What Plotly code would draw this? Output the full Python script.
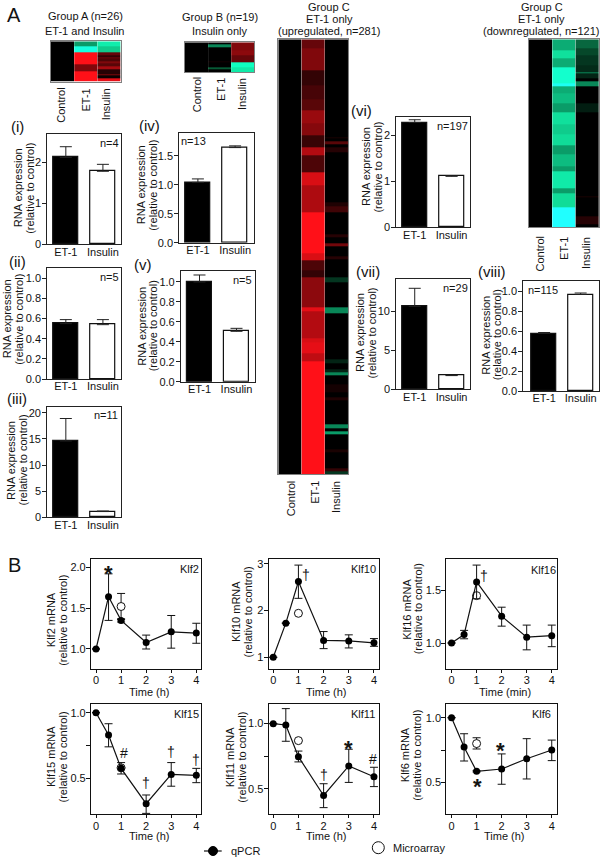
import plotly.graph_objects as go

W, H = 600, 859
FONT = "Liberation Sans"
INK = "#222222"

# ---- heatmap data: row edges (gene index) and value per band, -1 cyan .. 0 black .. 1 red
groupa_et1_edges = [0, 3, 7, 15, 19, 26]
groupa_et1_vals = [-0.5, -0.95, 1, 0.5, 1]
groupa_ins_edges = [0, 3, 7, 9, 10, 11, 13, 14, 16, 18, 21, 22, 24, 26]
groupa_ins_vals = [-0.8, -0.65, 0.4, 0.2, 0.45, 0.3, 0.5, 0.35, 0.65, 0.15, 0.5, 0.05, 0.9]

groupb_et1_edges = [0, 1, 3, 12, 13, 16, 17, 19]
groupb_et1_vals = [0, -0.42, 0, 0.08, 0, -0.25, 0]
groupb_ins_edges = [0, 5, 8, 13, 16, 19]
groupb_ins_vals = [0.5, 0.55, 0.4, -0.9, -0.78]

cup_et1_edges = [0, 6, 20, 30, 39, 46, 54, 62, 70, 75, 86, 94, 112, 138, 143, 149, 154, 173, 176, 193, 196, 203, 208, 281]
cup_et1_vals = [0.4, 0.5, 0.2, 0.28, 0.35, 0.6, 0.52, 0.22, 0.7, 0.3, 0.85, 0.68, 1, 0.85, 0.3, 0.2, 0.55, 0.9, 0.7, 0.85, 0.9, 0.75, 1]
cup_ins_edges = [0, 63, 64, 66, 68, 70, 73, 105, 108, 112, 126, 128, 132, 134, 140, 142, 154, 157, 173, 177, 207, 209,
                 213, 215, 217, 223, 228, 231, 233, 249, 251, 253, 255, 265, 267, 277, 279, 281]
cup_ins_vals = [0, 0.1, 0, 0.35, 0, 0.15, 0, 0.12, 0.25, 0, 0.15, 0, 0.45, 0, 0.15, 0, -0.15, 0, -0.42, 0, -0.1, 0,
                -0.1, -0.42, 0, 0.08, 0, 0.12, 0, -0.42, 0, -0.5, 0, 0.1, 0, 0.2, -0.15]

cdown_et1_edges = [0, 7, 12, 18, 28, 30, 35, 41, 47, 55, 61, 68, 74, 82, 85, 96, 99, 108, 121]
cdown_et1_vals = [-0.55, -0.72, -0.55, -0.92, -0.98, -0.55, -0.6, -0.5, -0.72, -0.65, -0.7, -0.5, -0.6, -0.5, -0.78, -0.5, -0.7, -1]
cdown_ins_edges = [0, 6, 10, 17, 21, 22, 25, 27, 30, 41, 47, 101, 102, 114, 119, 121]
cdown_ins_vals = [-0.3, -0.2, -0.15, -0.12, -0.42, -0.1, 0, -0.42, 0, -0.08, 0, 0.1, 0, 0.15, 0]

# ---- bar data: [ET-1, Insulin] and top of the error bar
bar_cats = ["ET-1", "Insulin"]
bar_i = [2.12, 1.78]
bar_i_top = [2.38, 1.95]
bar_ii = [0.55, 0.54]
bar_ii_top = [0.59, 0.59]
bar_iii = [14.6, 1.1]
bar_iii_top = [18.9, 1.2]
bar_iv = [1.04, 1.64]
bar_iv_top = [1.10, 1.67]
bar_v = [1.0, 0.505]
bar_v_top = [1.07, 0.535]
bar_vi = [2.28, 1.11]
bar_vi_top = [2.34, 1.12]
bar_vii = [10.6, 1.75]
bar_vii_top = [12.9, 1.8]
bar_viii = [0.575, 0.965]
bar_viii_top = [0.585, 0.98]

# ---- time courses
hours = [0, 0.5, 1, 2, 3, 4]
klf2 = [1.0, 1.64, 1.35, 1.08, 1.21, 1.195]
klf2_hi = [1.0, 1.92, 1.37, 1.17, 1.41, 1.315]
klf2_lo = [1.0, 1.35, 1.33, 1.0, 1.01, 1.07]
klf2_array = [1.52, 1.68, 1.36]
klf10 = [1.0, 1.73, 2.62, 1.36, 1.35, 1.31]
klf10_hi = [1.0, 1.73, 2.97, 1.55, 1.48, 1.4]
klf10_lo = [1.0, 1.73, 2.26, 1.185, 1.2, 1.235]
klf10_array = [1.94, 1.94, 1.94]
klf16 = [1.0, 1.08, 1.58, 1.255, 1.055, 1.07]
klf16_hi = [1.0, 1.12, 1.74, 1.34, 1.17, 1.17]
klf16_lo = [1.0, 1.04, 1.42, 1.16, 0.935, 0.965]
klf16_array = [1.45, 1.45, 1.45]
klf15 = [1.0, 0.83, 0.576, 0.307, 0.53, 0.523]
klf15_hi = [1.0, 0.916, 0.62, 0.373, 0.62, 0.576]
klf15_lo = [1.0, 0.74, 0.533, 0.233, 0.44, 0.467]
klf15_array = [0.58, 0.58, 0.58]
klf11 = [1.0, 0.99, 0.747, 0.45, 0.676, 0.594]
klf11_hi = [1.0, 1.115, 0.79, 0.54, 0.804, 0.666]
klf11_lo = [1.0, 0.865, 0.707, 0.357, 0.55, 0.518]
klf11_array = [0.87, 0.87, 0.87]
klf6 = [1.0, 0.773, 0.585, 0.603, 0.683, 0.75]
klf6_hi = [1.0, 0.876, 0.59, 0.72, 0.838, 0.827]
klf6_lo = [1.0, 0.665, 0.58, 0.485, 0.526, 0.668]
klf6_array = [0.80, 0.845, 0.758]

COLORSCALE = [
    [0.0, "#20ffff"],
    [0.05, "#10ffc0"],
    [0.15, "#10dc98"],
    [0.25, "#0a9c68"],
    [0.375, "#075a35"],
    [0.5, "#000000"],
    [1.0, "#ff1018"],
]

fig = go.Figure()
annotations = []
axis_no = 0


def text(x, y, s, size=11, angle=0, xanchor="center", yanchor="middle"):
    annotations.append(dict(
        x=x / W, y=1 - y / H, xref="paper", yref="paper", text=s, showarrow=False,
        textangle=angle, xanchor=xanchor, yanchor=yanchor, borderpad=0, opacity=0.99,
        font=dict(family=FONT, size=size, color="#111111"),
    ))


def new_axes(box, xaxis, yaxis):
    """Put a pair of axes on the pixel box (left, top, right, bottom)"""
    global axis_no
    axis_no += 1
    left, top, right, bottom = box
    name = "" if axis_no == 1 else str(axis_no)
    ref = f"x{name}", f"y{name}"
    fig.update_layout({
        f"xaxis{name}": dict(domain=[left / W, right / W], anchor=ref[1], automargin=False, **xaxis),
        f"yaxis{name}": dict(domain=[1 - bottom / H, 1 - top / H], anchor=ref[0], automargin=False, **yaxis),
    })
    return ref


def heatmap(box, n_rows, et1_edges, et1_vals, ins_edges, ins_vals):
    hidden = dict(showticklabels=False, ticks="", showgrid=False, zeroline=False,
                  showline=True, mirror=True, linecolor="#808080", linewidth=1)
    xref, yref = new_axes(box, dict(range=[-0.5, 2.5], **hidden), dict(range=[n_rows, 0], **hidden))
    columns = [([0, n_rows], [0]), (et1_edges, et1_vals), (ins_edges, ins_vals)]
    for k, (edges, vals) in enumerate(columns):
        fig.add_trace(go.Heatmap(
            x=[k - 0.5, k + 0.5], y=edges, z=[[v] for v in vals], colorscale=COLORSCALE,
            zmin=-1, zmax=1, showscale=False, xaxis=xref, yaxis=yref,
        ))


def bar_panel(box, xrange, yrange, ticks, ticktext, vals, tops):
    xaxis = dict(range=xrange, type="category", categoryarray=bar_cats, ticks="", showline=True, mirror=True,
                 linecolor=INK, linewidth=1.2, showgrid=False, zeroline=False, ticklabelstandoff=-3,
                 tickfont=dict(family=FONT, size=11, color="#111111"))
    yaxis = dict(range=yrange, tickvals=ticks, ticktext=ticktext, ticks="outside", ticklen=4, tickwidth=1,
                 tickcolor=INK, showline=True, mirror=True, linecolor=INK, linewidth=1.2, showgrid=False,
                 zeroline=False, ticklabelstandoff=-1, tickfont=dict(family=FONT, size=11, color="#111111"))
    xref, yref = new_axes(box, xaxis, yaxis)
    fig.add_trace(go.Bar(
        x=bar_cats, y=vals, width=0.68, xaxis=xref, yaxis=yref,
        marker=dict(color=["#000000", "#ffffff"], line=dict(color="#111111", width=1.2)),
        error_y=dict(type="data", symmetric=False, array=[t - v for t, v in zip(tops, vals)],
                     arrayminus=[0, 0], color=INK, thickness=1, width=6),
    ))


def line_panel(box, xrange, yrange, ticks, ticktext, vals, hi, lo, array_pt):
    xaxis = dict(range=xrange, tickvals=[0, 1, 2, 3, 4], ticks="outside", ticklen=3, tickwidth=1,
                 tickcolor="#111111", showline=True, mirror=True, linecolor="#111111", linewidth=1.2,
                 showgrid=False, zeroline=False, ticklabelstandoff=-2,
                 tickfont=dict(family=FONT, size=11, color="#111111"))
    yaxis = dict(range=yrange, tickvals=ticks, ticktext=ticktext, ticks="outside", ticklen=4, tickwidth=1,
                 tickcolor="#111111", showline=True, mirror=True, linecolor="#111111", linewidth=1.2,
                 showgrid=False, zeroline=False, ticklabelstandoff=-2,
                 tickfont=dict(family=FONT, size=11, color="#111111"))
    xref, yref = new_axes(box, xaxis, yaxis)
    fig.add_trace(go.Scatter(
        x=[1], y=[array_pt[0]], mode="markers", xaxis=xref, yaxis=yref,
        marker=dict(size=8, color="#ffffff", line=dict(color="#111111", width=1)),
        error_y=dict(type="data", symmetric=False, array=[array_pt[1] - array_pt[0]],
                     arrayminus=[array_pt[0] - array_pt[2]], color="#111111", thickness=1, width=4),
    ))
    fig.add_trace(go.Scatter(
        x=hours, y=vals, mode="lines+markers", xaxis=xref, yaxis=yref,
        line=dict(color="#111111", width=1.2),
        marker=dict(size=7, color="#000000"),
        error_y=dict(type="data", symmetric=False, array=[h - v for h, v in zip(hi, vals)],
                     arrayminus=[v - l for v, l in zip(vals, lo)], color="#111111", thickness=1, width=4),
    ))


def two_line_title(cx, cy, first, second):
    # two annotations, plotly's own line spacing is wider than the figure's
    text(cx - 5.8, cy, first, angle=-90)
    text(cx + 5.8, cy, second, angle=-90)


# ---- panel A heatmaps
heatmap((51, 41.3, 120.7, 81.7), 26, groupa_et1_edges, groupa_et1_vals, groupa_ins_edges, groupa_ins_vals)
heatmap((185, 42.3, 254.3, 72), 19, groupb_et1_edges, groupb_et1_vals, groupb_ins_edges, groupb_ins_vals)
heatmap((278.3, 39.3, 348.3, 474.3), 281, cup_et1_edges, cup_et1_vals, cup_ins_edges, cup_ins_vals)
heatmap((529, 39.3, 599, 227.3), 121, cdown_et1_edges, cdown_et1_vals, cdown_ins_edges, cdown_ins_vals)

text(85, 16, "Group A (n=26)")
text(85, 30.7, "ET-1 and Insulin")
text(220, 16.7, "Group B (n=19)")
text(220, 31, "Insulin only")
for cx, last in [(329, "(upregulated, n=281)"), (541.7, "(downregulated, n=121)")]:
    text(cx, 7.3, "Group C")
    text(cx, 19, "ET-1 only")
    text(cx, 30.7, last)

col_labels = ["Control", "ET-1", "Insulin"]
for top, xs in [(87.3, (61, 85.7, 106)), (76.7, (197, 220.7, 241.3)),
                (480, (290.7, 314.3, 336)), (235.7, (540.3, 563.7, 585.3))]:
    for cx, label in zip(xs, col_labels):
        text(cx, top, label, angle=-90, yanchor="top")

# ---- panel A bars
tenths = [0.0, 0.2, 0.4, 0.6, 0.8, 1.0]
tenths_text = ["0.0", "0.2", "0.4", "0.6", "0.8", "1.0"]
bar_panel((47.3, 134, 120.7, 244.3), [-0.5, 1.48], [0, 2.69], [0, 1, 2], ["0", "1", "2"], bar_i, bar_i_top)
bar_panel((47.3, 268.3, 120.7, 379), [-0.5, 1.48], [0, 1.1], tenths, tenths_text, bar_ii, bar_ii_top)
bar_panel((47.3, 407, 120.7, 517.3), [-0.5, 1.48], [0, 21.1], [0, 5, 10, 15, 20], ["0", "5", "10", "15", "20"], bar_iii, bar_iii_top)
bar_panel((179.3, 132.7, 253.7, 242.7), [-0.5, 1.5], [0, 1.897], [0, 0.5, 1, 1.5], ["0.0", "0.5", "1.0", "1.5"], bar_iv, bar_iv_top)
bar_panel((181, 271, 255, 381.7), [-0.5, 1.5], [0, 1.11], tenths, tenths_text, bar_v, bar_v_top)
bar_panel((396.3, 117, 470, 227.3), [-0.5, 1.5], [0, 2.4], [0, 1, 2], ["0", "1", "2"], bar_vi, bar_vi_top)
bar_panel((396.3, 279.3, 470, 389.3), [-0.5, 1.5], [0, 14.05], [0, 5, 10], ["0", "5", "10"], bar_vii, bar_vii_top)
bar_panel((523.3, 281, 599.3, 391), [-0.57, 1.51], [0, 1.1], tenths, tenths_text, bar_viii, bar_viii_top)

for cx, cy in [(24, 188), (147, 185), (13, 319), (16.7, 460), (147.5, 326), (371.8, 167), (365.8, 333), (491.5, 335)]:
    two_line_title(cx, cy, "RNA expression", "(relative to control)")
for cx, cy, s in [(110, 142.7, "n=4"), (110, 277, "n=5"), (106, 414.7, "n=11"), (194, 141, "n=13"), (242.7, 280.3, "n=5"),
                  (452.3, 126, "n=197"), (455.7, 288.3, "n=29"), (543.3, 290, "n=115")]:
    text(cx, cy, s)
for cx, cy, s in [(17, 126, "(i)"), (149, 125, "(iv)"), (17, 261, "(ii)"), (143, 264, "(v)"), (17.3, 398, "(iii)"),
                  (361.7, 111, "(vi)"), (368, 271.7, "(vii)"), (491.7, 272, "(viii)")]:
    text(cx, cy, s, size=15)
text(14, 15, "A", size=20)
text(14, 565, "B", size=20)

# ---- panel B time courses
line_panel((91, 559.3, 201.3, 669), [-0.2, 4.2], [0.755, 2.098], [1, 1.5, 2], ["1.0", "1.5", "2.0"], klf2, klf2_hi, klf2_lo, klf2_array)
line_panel((268.7, 559.3, 379, 669), [-0.18, 4.2], [0.75, 3.094], [1, 2, 3], ["1", "2", "3"], klf10, klf10_hi, klf10_lo, klf10_array)
line_panel((446.3, 559.3, 557, 669), [-0.21, 4.21], [0.753, 1.795], [1, 1.5], ["1.0", "1.5"], klf16, klf16_hi, klf16_lo, klf16_array)
line_panel((91, 704.3, 201.3, 814.3), [-0.2, 4.2], [0.226, 1.064], [0.5, 0.75, 1], ["0.5", "", "1.0"], klf15, klf15_hi, klf15_lo, klf15_array)
line_panel((268.7, 704.3, 379, 814.3), [-0.18, 4.2], [0.306, 1.148], [0.5, 0.75, 1], ["0.5", "", "1.0"], klf11, klf11_hi, klf11_lo, klf11_array)
line_panel((446.3, 704.3, 557, 814.3), [-0.21, 4.21], [0.2525, 1.104], [0.5, 0.75, 1], ["0.5", "", "1.0"], klf6, klf6_hi, klf6_lo, klf6_array)

for cx, cy, gene in [(57, 620, "Klf2"), (242, 611.7, "Klf10"), (412.5, 609, "Klf16"),
                     (57, 756.7, "Klf15"), (236, 757, "Klf11"), (411, 755, "Klf6")]:
    two_line_title(cx, cy, f"{gene} mRNA", "(relative to control)")
for cx, cy, s in [(149, 691.5, "Time (h)"), (326, 691.5, "Time (h)"), (505, 691.5, "Time (min)"),
                  (149, 836, "Time (h)"), (326, 836, "Time (h)"), (504.3, 836, "Time (h)")]:
    text(cx, cy, s)
for cx, cy, s in [(189, 569, "Klf2"), (363, 569, "Klf10"), (543, 570, "Klf16"),
                  (186.7, 714, "Klf15"), (362.7, 714, "Klf11"), (541, 714, "Klf6")]:
    text(cx, cy, s)

# significance marks
for cx, cy in [(108.3, 573), (348.3, 748), (500.7, 750.5), (477, 786.5)]:
    text(cx, cy, "<b>*</b>", size=22)
for cx, cy in [(145.7, 783.3), (171, 752.3), (195.7, 760), (306, 575), (484, 576), (324, 775)]:
    text(cx, cy, "†", size=14)
for cx, cy in [(124, 753.3), (373.3, 759.3)]:
    text(cx, cy, "#", size=14)

# ---- legend keys
shapes = [
    dict(type="line", xref="paper", yref="paper", x0=204 / W, x1=221.7 / W, y0=1 - 851 / H, y1=1 - 851 / H,
         line=dict(color="#111111", width=1.2)),
    dict(type="circle", xref="paper", yref="paper", x0=208.5 / W, x1=217.5 / W, y0=1 - 855.5 / H, y1=1 - 846.5 / H,
         fillcolor="#000000", line=dict(color="#000000", width=1)),
    dict(type="circle", xref="paper", yref="paper", x0=372.3 / W, x1=384.3 / W, y0=1 - 853.7 / H, y1=1 - 841.7 / H,
         fillcolor="#ffffff", line=dict(color="#111111", width=1)),
]
text(245, 851, "qPCR")
text(419.3, 848, "Microarray")

fig.update_layout(
    width=W, height=H, margin=dict(l=0, r=0, t=0, b=0), autosize=False,
    paper_bgcolor="white", plot_bgcolor="white", showlegend=False,
    annotations=annotations, shapes=shapes, bargap=0,
)

fig.write_html("out.html", config={"displayModeBar": False}, post_script="document.body.style.margin='0';")
